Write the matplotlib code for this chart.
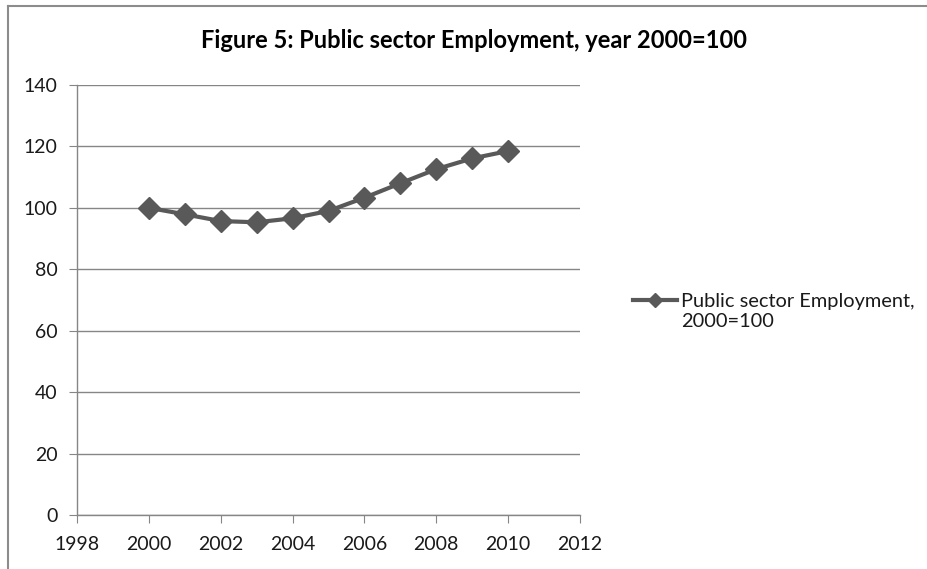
import matplotlib
matplotlib.use("Agg")
import matplotlib.pyplot as plt
from matplotlib.lines import Line2D

years = [2000, 2001, 2002, 2003, 2004, 2005, 2006, 2007, 2008, 2009, 2010]
employment = [100.0, 97.9, 95.7, 95.3, 96.6, 99.0, 103.3, 108.0, 112.6, 116.1, 118.5]
x_ticks = [1998, 2000, 2002, 2004, 2006, 2008, 2010, 2012]
y_ticks = [0, 20, 40, 60, 80, 100, 120, 140]
title = "Figure 5: Public sector Employment, year 2000=100"
series_label_lines = ["Public sector Employment,", "2000=100"]

plt.rcParams['font.family'] = ['Lato', 'DejaVu Sans']

W, H = 928, 569
fig = plt.figure(figsize=(W / 100, H / 100), dpi=100)
ax = fig.add_axes([77 / W, 1 - 515 / H, (580 - 77) / W, (515 - 85) / H])

line_color = "#595959"
ax.plot(years, employment, color=line_color, lw=3, marker="D", ms=11,
        markeredgecolor=line_color, markerfacecolor=line_color,
        solid_joinstyle="round")

ax.set_xlim(1998, 2012)
ax.set_ylim(0, 140)
ax.set_xticks(x_ticks)
ax.set_yticks(y_ticks)
ax.set_xticklabels([str(t) for t in x_ticks])
ax.set_yticklabels([str(t) for t in y_ticks])

grid_color = "#868686"
ax.yaxis.grid(True, color=grid_color, lw=1)
ax.xaxis.grid(False)
ax.set_axisbelow(True)
for s in ["top", "right"]:
    ax.spines[s].set_visible(False)
for s in ["left", "bottom"]:
    ax.spines[s].set_color(grid_color)
    ax.spines[s].set_linewidth(1)
ax.tick_params(axis="both", which="both", direction="out", length=6,
               color=grid_color, labelsize=14, labelcolor="#1a1a1a")
ax.tick_params(axis="x", pad=9)
ax.tick_params(axis="y", pad=8)

fig.text(474 / W, 1 - 40 / H, title, ha="center", va="center",
         fontsize=17, fontweight="bold", color="#000000")

# legend: series handle on the first line, continuation text on the second
h1 = Line2D([], [], color=line_color, lw=3, marker="D", ms=7,
            markeredgecolor=line_color, markerfacecolor=line_color)
h2 = Line2D([], [], alpha=0)
leg = fig.legend([h1, h2], series_label_lines, loc="center left",
                 bbox_to_anchor=(633 / W, 1 - 311 / H), frameon=False,
                 fontsize=14.4, handlelength=2.2, handletextpad=0.2,
                 borderpad=0, borderaxespad=0, labelspacing=0.15,
                 labelcolor="#1a1a1a")

# chart-area border (left and top edges visible)
fig.add_artist(Line2D([8 / W, 8 / W], [0, 1 - 6 / H], transform=fig.transFigure,
                      color="#8c8c8c", lw=1.5))
fig.add_artist(Line2D([8 / W, 1], [1 - 6 / H, 1 - 6 / H], transform=fig.transFigure,
                      color="#8c8c8c", lw=1.5))

fig.savefig("out.png", dpi=100, facecolor="white")
